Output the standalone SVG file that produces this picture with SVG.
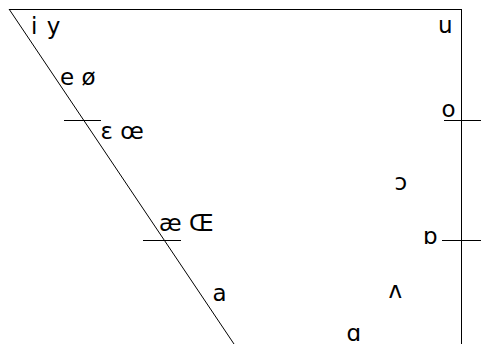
<svg xmlns="http://www.w3.org/2000/svg" width="481" height="344" viewBox="0 0 481 344">
<style>
.l{stroke:#000;stroke-width:1;fill:none}
text{font-family:"DejaVu Sans",sans-serif;font-size:23px;fill:#000}
</style>
<rect width="481" height="344" fill="#fff"/>
<g id="connectors">
<line class="l" x1="9" y1="9.5" x2="461" y2="9.5"/>
<line class="l" x1="461.5" y1="9" x2="461.5" y2="344"/>
<line class="l" x1="9" y1="9" x2="234" y2="344"/>
<line class="l" x1="64" y1="120.5" x2="101" y2="120.5"/>
<line class="l" x1="143" y1="240.5" x2="181" y2="240.5"/>
<line class="l" x1="444" y1="120.5" x2="481" y2="120.5"/>
<line class="l" x1="442" y1="240.5" x2="481" y2="240.5"/>
</g>
<g id="n-iy"><text x="31" y="34">i<tspan dx="2"> y</tspan></text></g>
<g id="n-eo"><text x="60" y="85">e ø</text></g>
<g id="n-eoe"><text x="100.5" y="139">ε œ</text></g>
<g id="n-ae"><text x="159" y="231">æ Œ</text></g>
<g id="n-a"><text x="212.5" y="301">a</text></g>
<g id="n-u"><text x="438" y="33">u</text></g>
<g id="n-o"><text x="441.5" y="117">o</text></g>
<g id="n-open-o"><text x="394.5" y="190">ɔ</text></g>
<g id="n-turned-a"><text x="423" y="244">ɒ</text></g>
<g id="n-wedge"><text x="388.5" y="298">ʌ</text></g>
<g id="n-alpha"><text x="346.5" y="340.5">ɑ</text></g>
</svg>
